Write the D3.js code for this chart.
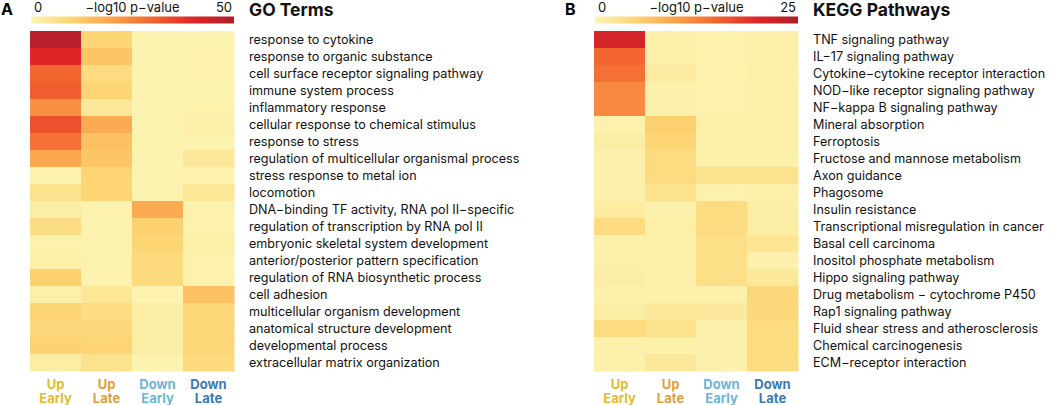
<!DOCTYPE html>
<html><head><meta charset="utf-8">
<script src="https://cdn.jsdelivr.net/npm/d3@7"></script>
<style>body{margin:0;background:#fff;} text{font-family:Inter,"Noto Sans",sans-serif;}</style>
</head><body><svg id="c" width="1050" height="405"></svg>
<script>
const columns = ["Up Early","Up Late","Down Early","Down Late"];
const columnColors = ["#e4bb2a","#dfa03c","#6ab5da","#3b79b7"];

const goTerms = ["response to cytokine","response to organic substance","cell surface receptor signaling pathway","immune system process","inflammatory response","cellular response to chemical stimulus","response to stress","regulation of multicellular organismal process","stress response to metal ion","locomotion","DNA\u2212binding TF activity, RNA pol II\u2212specific","regulation of transcription by RNA pol II","embryonic skeletal system development","anterior/posterior pattern specification","regulation of RNA biosynthetic process","cell adhesion","multicellular organism development","anatomical structure development","developmental process","extracellular matrix organization"];
const goUpEarly   = [48,40,30,31,23,33,28,19,0.5,6,2.5,7.5,1,1.5,11,2,10,9,10.5,2.5];
const goUpLate    = [10,13,8,10,4,18,14,13,10,10,0.8,0.8,0.8,0.8,0.8,4.5,7.5,9,10,6];
const goDownEarly = [0.5,0.5,0.5,0.5,0.5,0.5,0.5,0.5,0.5,0.5,18,11,10,8.5,8.5,0.7,2.5,2.5,2.5,0.5];
const goDownLate  = [0.5,1,1,0.8,1,1.5,0.8,4,1,4.5,1,1,2,1,1,14,9.5,9.5,9.5,8.5];
const goMax = 50;

const keggTerms = ["TNF signaling pathway","IL\u221217 signaling pathway","Cytokine\u2212cytokine receptor interaction","NOD\u2212like receptor signaling pathway","NF\u2212kappa B signaling pathway","Mineral absorption","Ferroptosis","Fructose and mannose metabolism","Axon guidance","Phagosome","Insulin resistance","Transcriptional misregulation in cancer","Basal cell carcinoma","Inositol phosphate metabolism","Hippo signaling pathway","Drug metabolism \u2212 cytochrome P450","Rap1 signaling pathway","Fluid shear stress and atherosclerosis","Chemical carcinogenesis","ECM\u2212receptor interaction"];
const keggUpEarly   = [21,15,14,12,12,0.5,1.2,0.6,0.6,0.6,1.5,4,0.7,1,1.2,0.8,1.2,4,0.8,0.8];
const keggUpLate    = [0.8,1,1.5,0.6,0.6,5.5,5,4,4,3,0.6,1,1,0.8,0.8,0.8,2,3,0.8,2];
const keggDownEarly = [0.5,0.5,0.5,0.5,0.5,1,0.8,0.7,3,0.5,4,4,3.5,3.5,3.5,0.8,1.8,0.6,0.6,0.6];
const keggDownLate  = [0.8,0.8,1,0.8,0.8,0.8,0.8,0.7,3,0.8,1.2,1.2,2.5,0.6,2,4.5,4.5,4,4,4];
const keggMax = 25;

const stops = ["#fcf5b4","#fdd574","#fba24a","#f26430","#de2527","#ae1e2b"];
const svg = d3.select("#c");

function panel(opt){
  const g = svg.append("g");
  const vals = [opt.ue, opt.ul, opt.de, opt.dl];
  const x = d3.scaleBand().domain(columns).range([opt.x0, opt.x0 + 204]);
  const y = d3.scaleBand().domain(opt.terms).range([31, 371]);
  const col = d3.scaleLinear().domain(d3.range(stops.length).map(i => i/(stops.length-1)*opt.max)).range(stops).clamp(true);
  const cells = [];
  opt.terms.forEach((t,i) => columns.forEach((c,j) => cells.push({t, c, v: vals[j][i]})));
  g.selectAll("rect.cell").data(cells).join("rect")
    .attr("x", d => x(d.c)).attr("y", d => y(d.t))
    .attr("width", x.bandwidth()+0.5).attr("height", y.bandwidth()+0.5)
    .attr("fill", d => col(d.v));
  g.selectAll("text.row").data(opt.terms).join("text")
    .attr("x", opt.x0 + 219).attr("y", d => y(d) + y.bandwidth()/2)
    .attr("dy", "0.35em").attr("font-size", 12.6).attr("fill", "#111").text(d => d);
  columns.forEach((c,j) => {
    const parts = c.split(" ");
    parts.forEach((p,k) => g.append("text").attr("text-anchor","middle").attr("font-weight",700)
      .attr("font-size",13).attr("fill",columnColors[j])
      .attr("x", x(c)+x.bandwidth()/2).attr("y", 389 + k*14).text(p));
  });
  const gid = "grad" + opt.id;
  const grad = svg.append("defs").append("linearGradient").attr("id", gid);
  stops.forEach((s,i) => grad.append("stop").attr("offset", (i/(stops.length-1)*100)+"%").attr("stop-color", s));
  const lx = d3.scaleLinear().domain([0, opt.max]).range([opt.x0+1, opt.x0+204]);
  g.append("rect").attr("x", lx(0)).attr("y", 16.5).attr("width", lx(opt.max)-lx(0)).attr("height", 7).attr("fill", `url(#${gid})`);
  g.append("text").attr("x", lx(0)+3).attr("y", 12).attr("font-size",13).attr("fill","#111").text("0");
  g.append("text").attr("x", lx(opt.max)-2).attr("y", 12).attr("text-anchor","end").attr("font-size",13).attr("fill","#111").text(opt.max);
  g.append("text").attr("x", (lx(0)+lx(opt.max))/2).attr("y", 12).attr("text-anchor","middle").attr("font-size",13).attr("fill","#111").text("\u2212log10 p\u2212value");
  g.append("text").attr("x", opt.x0 - 29).attr("y", 15).attr("font-weight",700).attr("font-size",16).attr("fill","#000").text(opt.letter);
  g.append("text").attr("x", opt.x0 + 219).attr("y", 16).attr("font-weight",700).attr("font-size",17.5).attr("fill","#111").text(opt.title);
}

panel({id:"A", x0:30, terms:goTerms, ue:goUpEarly, ul:goUpLate, de:goDownEarly, dl:goDownLate, max:goMax, letter:"A", title:"GO Terms"});
panel({id:"B", x0:594, terms:keggTerms, ue:keggUpEarly, ul:keggUpLate, de:keggDownEarly, dl:keggDownLate, max:keggMax, letter:"B", title:"KEGG Pathways"});
</script></body></html>
